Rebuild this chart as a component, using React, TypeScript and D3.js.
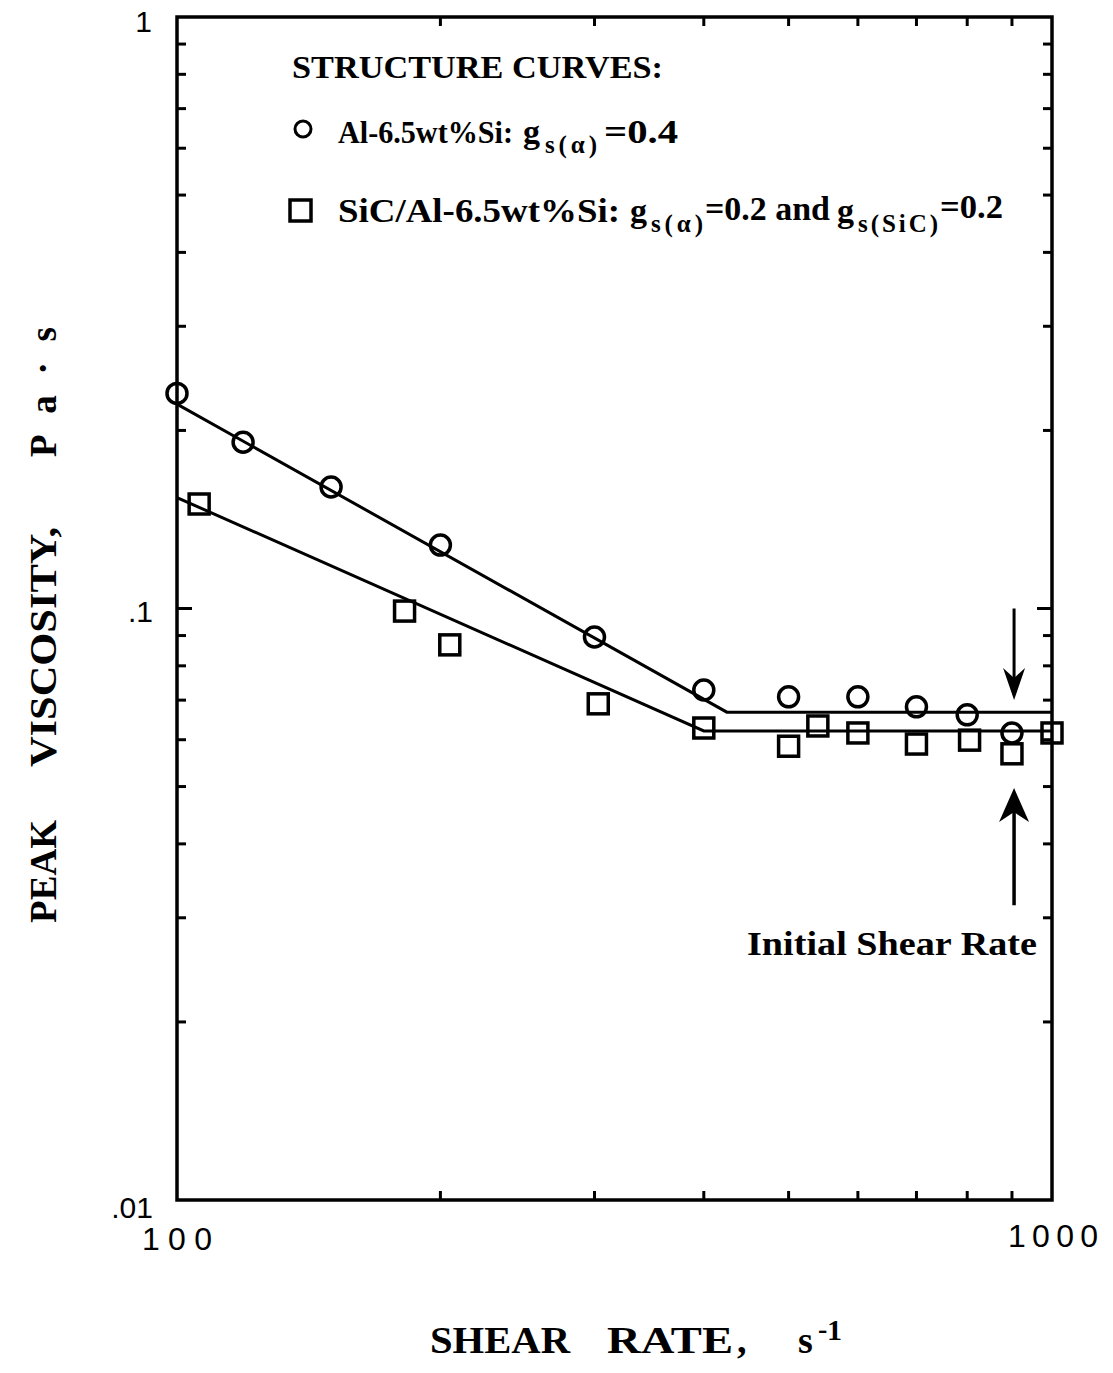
import * as d3 from "d3";
import { useEffect, useRef } from "react";

// Al-6.5wt%Si, g_s(alpha)=0.4 (circles)
const alShearRate = [100, 119, 150, 200, 300, 400, 500, 600, 700, 800, 900];
const alViscosity = [0.231, 0.191, 0.1605, 0.128, 0.0895, 0.0728, 0.0709, 0.0709, 0.0682, 0.0661, 0.0616];

// SiC/Al-6.5wt%Si (squares)
const sicShearRate = [106, 182, 205, 303, 400, 500, 540, 600, 700, 805, 900, 1000];
const sicViscosity = [0.1502, 0.099, 0.0868, 0.069, 0.0628, 0.0585, 0.0633, 0.0616, 0.059, 0.0599, 0.0568, 0.0616];

// structure curves (fitted lines)
const alCurveRate = [100, 425, 1000];
const alCurveViscosity = [0.2216, 0.0668, 0.0668];
const sicCurveRate = [100, 400, 1000];
const sicCurveViscosity = [0.154, 0.0621, 0.0621];

const xMinorTicks = [200, 300, 400, 500, 600, 700, 800, 900];
const yMinorTicks = [0.02, 0.03, 0.04, 0.05, 0.06, 0.07, 0.08, 0.09, 0.2, 0.3, 0.4, 0.5, 0.6, 0.7, 0.8, 0.9];
const yTickValues = [1, 0.1, 0.01];
const yTickLabels = ["1", ".1", ".01"];

const initialShearRate = 905;

const W = 1113;
const H = 1373;
const left = 177;
const right = 1052;
const top = 17;
const bottom = 1200;

const serif = "'Liberation Serif', 'Times New Roman', serif";
const sans = "'Liberation Sans', Arial, sans-serif";

export default function App() {
  const ref = useRef<SVGSVGElement>(null);

  useEffect(() => {
    const svg = d3.select(ref.current);
    svg.selectAll("*").remove();

    const x = d3.scaleLog().domain([100, 1000]).range([left, right]);
    const y = d3.scaleLog().domain([0.01, 1]).range([bottom, top]);

    svg.append("rect").attr("width", W).attr("height", H).attr("fill", "#fff");

    const g = svg.append("g");

    // frame
    g.append("rect")
      .attr("x", left)
      .attr("y", top)
      .attr("width", right - left)
      .attr("height", bottom - top)
      .attr("fill", "none")
      .attr("stroke", "#000")
      .attr("stroke-width", 3.5);

    // ticks, all pointing inward
    const tickG = g.append("g").attr("stroke", "#000").attr("stroke-width", 3);
    yMinorTicks.forEach((v) => {
      tickG.append("line").attr("x1", left).attr("x2", left + 9).attr("y1", y(v)).attr("y2", y(v));
      tickG.append("line").attr("x1", right).attr("x2", right - 9).attr("y1", y(v)).attr("y2", y(v));
    });
    tickG.append("line").attr("x1", left).attr("x2", left + 15).attr("y1", y(0.1)).attr("y2", y(0.1));
    tickG.append("line").attr("x1", right).attr("x2", right - 15).attr("y1", y(0.1)).attr("y2", y(0.1));
    xMinorTicks.forEach((v) => {
      tickG.append("line").attr("x1", x(v)).attr("x2", x(v)).attr("y1", bottom).attr("y2", bottom - 9);
      tickG.append("line").attr("x1", x(v)).attr("x2", x(v)).attr("y1", top).attr("y2", top + 9);
    });

    // tick labels
    yTickValues.forEach((v, i) => {
      const yy = v === 1 ? y(v) + 15 : v === 0.01 ? y(v) + 18 : y(v) + 13;
      g.append("text")
        .attr("x", v === 1 ? 152 : 153)
        .attr("y", yy)
        .attr("text-anchor", "end")
        .attr("font-family", sans)
        .attr("font-size", 30)
        .text(yTickLabels[i]);
    });
    g.append("text")
      .attr("x", x(100) - 35)
      .attr("y", 1250)
      .attr("font-family", sans)
      .attr("font-size", 32)
      .attr("textLength", 70)
      .attr("lengthAdjust", "spacing")
      .text("100");
    g.append("text")
      .attr("x", x(1000) - 44)
      .attr("y", 1247)
      .attr("font-family", sans)
      .attr("font-size", 32)
      .attr("textLength", 90)
      .attr("lengthAdjust", "spacing")
      .text("1000");

    // structure curves
    const line = d3
      .line<[number, number]>()
      .x((d) => x(d[0]))
      .y((d) => y(d[1]));
    g.append("path")
      .attr("d", line(alCurveRate.map((r, i) => [r, alCurveViscosity[i]])))
      .attr("fill", "none")
      .attr("stroke", "#000")
      .attr("stroke-width", 3);
    g.append("path")
      .attr("d", line(sicCurveRate.map((r, i) => [r, sicCurveViscosity[i]])))
      .attr("fill", "none")
      .attr("stroke", "#000")
      .attr("stroke-width", 3);

    // markers
    g.selectAll(".al")
      .data(alShearRate.map((r, i) => [r, alViscosity[i]]))
      .enter()
      .append("circle")
      .attr("cx", (d) => x(d[0]))
      .attr("cy", (d) => y(d[1]))
      .attr("r", 10)
      .attr("fill", "none")
      .attr("stroke", "#000")
      .attr("stroke-width", 3.5);
    g.selectAll(".sic")
      .data(sicShearRate.map((r, i) => [r, sicViscosity[i]]))
      .enter()
      .append("rect")
      .attr("x", (d) => x(d[0]) - 10)
      .attr("y", (d) => y(d[1]) - 10)
      .attr("width", 20)
      .attr("height", 20)
      .attr("fill", "none")
      .attr("stroke", "#000")
      .attr("stroke-width", 3.5);

    // initial shear rate arrows
    const ax = x(initialShearRate);
    g.append("line")
      .attr("x1", ax).attr("x2", ax)
      .attr("y1", y(0.1)).attr("y2", y(0.0715))
      .attr("stroke", "#000").attr("stroke-width", 3);
    g.append("path")
      .attr("d", `M${ax},${y(0.07)} L${ax - 11},${y(0.07) - 32} L${ax},${y(0.07) - 22} L${ax + 11},${y(0.07) - 32} Z`)
      .attr("fill", "#000");
    g.append("line")
      .attr("x1", ax).attr("x2", ax)
      .attr("y1", y(0.049) + 20).attr("y2", y(0.0315))
      .attr("stroke", "#000").attr("stroke-width", 3.5);
    g.append("path")
      .attr("d", `M${ax},${y(0.0497)} L${ax - 15},${y(0.0497) + 34} L${ax},${y(0.0497) + 24} L${ax + 15},${y(0.0497) + 34} Z`)
      .attr("fill", "#000");

    const txt = (s: string, xx: number, yy: number, size: number, len?: number, adj = "spacingAndGlyphs") => {
      const t = g.append("text")
        .attr("x", xx)
        .attr("y", yy)
        .attr("font-family", serif)
        .attr("font-weight", "bold")
        .attr("font-size", size)
        .text(s);
      if (len) t.attr("textLength", len).attr("lengthAdjust", adj);
      return t;
    };

    txt("Initial Shear Rate", 747, 955, 34, 290);

    // legend
    txt("STRUCTURE CURVES:", 292, 78, 31, 371);

    g.append("circle")
      .attr("cx", 303).attr("cy", 129).attr("r", 8)
      .attr("fill", "none").attr("stroke", "#000").attr("stroke-width", 3);
    txt("Al-6.5wt%Si:", 338, 143, 32, 175);
    txt("g", 523, 143, 34);
    txt("s(α)", 545, 153, 25, 52, "spacing");
    txt("=0.4", 604, 143, 33, 74);

    g.append("rect")
      .attr("x", 290).attr("y", 200).attr("width", 21).attr("height", 21)
      .attr("fill", "none").attr("stroke", "#000").attr("stroke-width", 3.5);
    txt("SiC/Al-6.5wt%Si:", 338, 222, 33, 282);
    txt("g", 630, 222, 34);
    txt("s(α)", 651, 232, 25, 52, "spacing");
    txt("=0.2 and", 705, 220, 33, 125);
    txt("g", 837, 222, 34);
    txt("s(SiC)", 858, 232, 25, 80, "spacing");
    txt("=0.2", 940, 218, 33, 63);

    // axis titles
    const ylab = (s: string, yy: number, len: number, adj: string) =>
      g.append("text")
        .attr("transform", `translate(56,${yy}) rotate(-90)`)
        .attr("font-family", serif)
        .attr("font-weight", "bold")
        .attr("font-size", 37)
        .attr("textLength", len)
        .attr("lengthAdjust", adj)
        .text(s);
    ylab("PEAK", 923, 103, "spacingAndGlyphs");
    ylab("VISCOSITY,", 767, 240, "spacingAndGlyphs");
    ylab("Pa·s", 457, 130, "spacing");

    txt("SHEAR", 430, 1353, 38, 140);
    txt("RATE", 607, 1353, 38, 126);
    txt(",", 737, 1353, 38);
    txt("s", 798, 1353, 38);
    txt("-", 818, 1338, 28);
    txt("1", 827, 1340, 30);
  }, []);

  return (
    <svg
      ref={ref}
      width={W}
      height={H}
      style={{ position: "absolute", left: 0, top: 0, display: "block" }}
    />
  );
}
